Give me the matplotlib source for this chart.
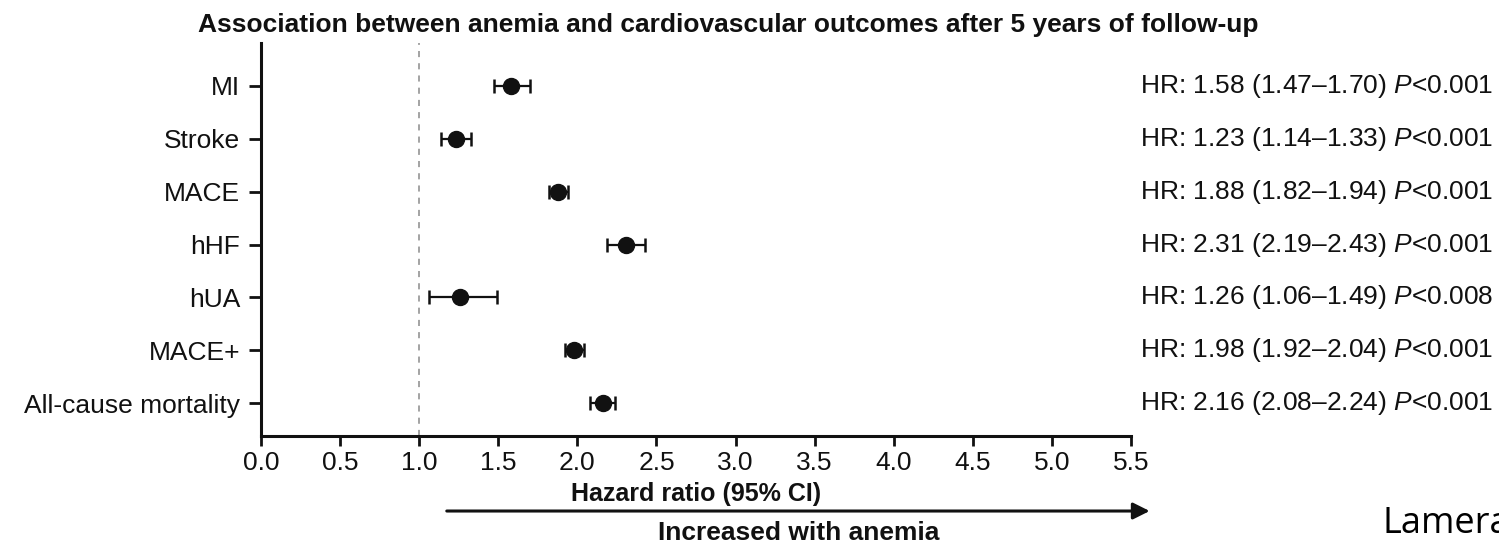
import matplotlib
matplotlib.use("Agg")
import matplotlib.pyplot as plt
import numpy as np

# Hazard ratios with 95% confidence intervals
outcomes = ["MI", "Stroke", "MACE", "hHF", "hUA", "MACE+", "All-cause mortality"]
hr = [1.58, 1.23, 1.88, 2.31, 1.26, 1.98, 2.16]
ci_low = [1.47, 1.14, 1.82, 2.19, 1.06, 1.92, 2.08]
ci_high = [1.70, 1.33, 1.94, 2.43, 1.49, 2.04, 2.24]
p_values = ["<0.001", "<0.001", "<0.001", "<0.001", "<0.008", "<0.001", "<0.001"]
x_ticks = [0.0, 0.5, 1.0, 1.5, 2.0, 2.5, 3.0, 3.5, 4.0, 4.5, 5.0, 5.5]

plt.rcParams["font.family"] = ["Liberation Sans", "DejaVu Sans"]
plt.rcParams["mathtext.fontset"] = "custom"
plt.rcParams["mathtext.rm"] = "Liberation Sans"
plt.rcParams["mathtext.it"] = "Liberation Sans:italic"

ink = "#111111"

fig = plt.figure(figsize=(14.99, 5.43), dpi=100)
ax = fig.add_axes([0.17412, 0.19705, 0.58038, 0.72376])

y = np.arange(len(outcomes))
hr_arr = np.array(hr)
err = np.vstack([hr_arr - np.array(ci_low), np.array(ci_high) - hr_arr])

ax.axvline(1.0, color="#8a8a8a", lw=1.1, ls=(0, (4, 4)), zorder=1)
ax.errorbar(hr_arr, y, xerr=err, fmt="o", color=ink, ms=11.5, elinewidth=1.6,
            capsize=5, capthick=1.8, zorder=3)

ax.set_xlim(0, 5.5)
ax.set_ylim(6.62, -0.81)
ax.set_xticks(x_ticks)
ax.set_xticklabels([f"{t:.1f}" for t in x_ticks])
ax.set_yticks(y)
ax.set_yticklabels(outcomes)

for side in ("top", "right"):
    ax.spines[side].set_visible(False)
for side in ("left", "bottom"):
    ax.spines[side].set_linewidth(2.2)
    ax.spines[side].set_color(ink)

ax.tick_params(axis="x", length=7, width=2, labelsize=19, colors=ink, pad=4)
ax.tick_params(axis="y", length=9, width=2, labelsize=19, colors=ink, pad=6)

ax.set_xlabel("Hazard ratio (95% CI)", fontsize=18, fontweight="bold",
              color=ink, labelpad=5)

# Per-outcome estimates on the right
for yi, h, lo, hi, p in zip(y, hr, ci_low, ci_high, p_values):
    label = f"HR: {h:.2f} ({lo:.2f}\u2013{hi:.2f}) $\\it{{P}}${p}"
    ax.text(5.557, yi, label, fontsize=19, color=ink, ha="left",
            va="center", clip_on=False)

fig.text(0.4857, 0.941, "Association between anemia and cardiovascular "
         "outcomes after 5 years of follow-up", fontsize=19,
         fontweight="bold", ha="center", va="baseline", color=ink)

# Direction arrow below the axis
fig.add_artist(matplotlib.patches.FancyArrowPatch(
    (0.2962, 0.0589), (0.7688, 0.0589), transform=fig.transFigure,
    arrowstyle="-|>,head_length=10,head_width=5", lw=2.2, color=ink,
    mutation_scale=1))
fig.text(0.5325, 0.006, "Increased with anemia", fontsize=19,
         fontweight="bold", ha="center", va="baseline", color=ink)

fig.text(0.922, 0.0184, "Lamera", fontsize=26, family="Open Sans",
         ha="left", va="baseline", color="black")

fig.savefig("out.png", dpi=100)
